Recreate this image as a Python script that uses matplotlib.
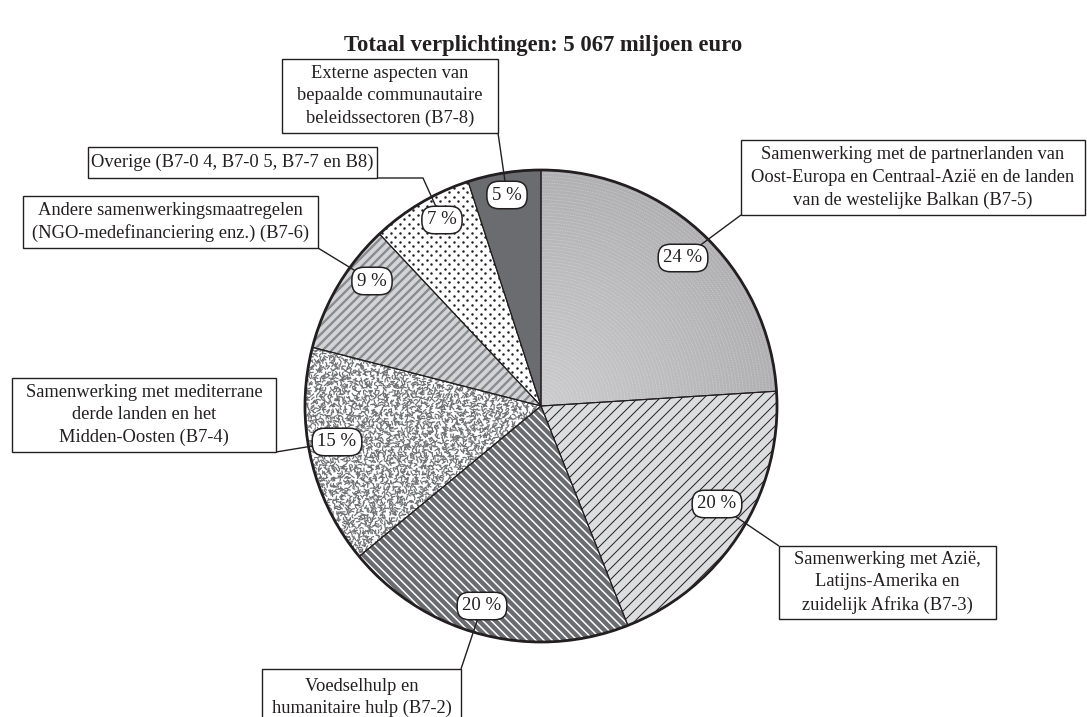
import numpy as np
import matplotlib.pyplot as plt
from matplotlib.patches import Rectangle, Circle, Wedge
from matplotlib.collections import LineCollection

plt.rcParams['font.family'] = ['Liberation Serif', 'DejaVu Serif']

W, H = 1087, 717

# --- data -------------------------------------------------------------
title = "Totaal verplichtingen: 5 067 miljoen euro"
shares = [24, 20, 20, 15, 9, 7, 5]
categories = [
    "Samenwerking met de partnerlanden van\nOost-Europa en Centraal-Azië en de landen\nvan de westelijke Balkan (B7-5)",
    "Samenwerking met Azië,\nLatijns-Amerika en\nzuidelijk Afrika (B7-3)",
    "Voedselhulp en\nhumanitaire hulp (B7-2)",
    "Samenwerking met mediterrane\nderde landen en het\nMidden-Oosten (B7-4)",
    "Andere samenwerkingsmaatregelen\n(NGO-medefinanciering enz.) (B7-6)",
    "Overige (B7-0 4, B7-0 5, B7-7 en B8)",
    "Externe aspecten van\nbepaalde communautaire\nbeleidssectoren (B7-8)",
]

# --- layout (pixel coords, y measured from top) ------------------------
CX, CY, R = 541, 406, 236
bubble_pos = [(683, 258), (717, 504), (482, 606), (337, 442),
              (372, 281), (442, 220), (507, 195)]
box_rect = [(741, 140, 1085, 215), (779, 546, 996, 619), (262, 669, 461, 726),
            (12, 378, 276, 452), (23, 196, 318, 248), (88, 147, 377, 178),
            (282, 59, 498, 133)]
leader_from = [[(741, 215)], [(779, 546)], [(461, 669)], [(276, 452)],
               [(318, 248)], [(377, 178), (423, 178)], [(498, 133)]]

INK = '#231f20'
DARK = '#6b6c6f'


def Y(py):
    return H - py


fig = plt.figure(figsize=(W / 100, H / 100), dpi=100)
ax = fig.add_axes([0, 0, 1, 1])
face = ['#bfc0c2', '#dcdddf', DARK, 'white', '#d3d4d6', 'white', DARK]
wedges, _ = ax.pie(shares, startangle=90, counterclock=False,
                   center=(CX, Y(CY)), radius=R, colors=face,
                   wedgeprops=dict(edgecolor='none', linewidth=0))
ax.set_xlim(0, W)
ax.set_ylim(0, H)
ax.set_aspect('equal')
ax.axis('off')

cx, cy = CX, Y(CY)


def stripes(wedge, slope, step, color, lw):
    segs = []
    for d in np.arange(-2 * R, 2 * R, step):
        if slope > 0:
            segs.append([(cx + d - R, cy - R), (cx + d + R, cy + R)])
        else:
            segs.append([(cx + d - R, cy + R), (cx + d + R, cy - R)])
    lc = LineCollection(segs, colors=color, linewidths=lw, zorder=2)
    ax.add_collection(lc)
    lc.set_clip_path(wedge)


# 24 %: radial grey with fine concentric rings
for r in np.arange(R, 0, -3.3):
    t = r / R
    g = 0.80 - 0.11 * t
    c = Circle((cx, cy), r, facecolor=(g, g, g + 0.01), edgecolor=(1, 1, 1, 0.45),
               linewidth=0.35, linestyle=(0, (3, 2)), zorder=2)
    ax.add_patch(c)
    c.set_clip_path(wedges[0])

# 20 % B7-3: thin black diagonal lines
stripes(wedges[1], +1, 11, INK, 0.7)
# 20 % B7-2: white diagonal lines on dark grey
stripes(wedges[2], -1, 8.3, 'white', 1.1)

# 15 %: worm-like grey speckle
segs = []
sp = 3.1
for i, x in enumerate(np.arange(cx - R, cx + R, sp)):
    for j, y in enumerate(np.arange(cy - R, cy + R, sp)):
        h = np.sin(i * 12.9898 + j * 78.233) * 43758.5453
        h = h - np.floor(h)
        h2 = np.sin(i * 39.3468 + j * 11.135) * 24634.6345
        h2 = h2 - np.floor(h2)
        a1 = h * 2 * np.pi
        a2 = a1 + (h2 - 0.5) * 2.4
        x0 = x + (h2 - 0.5) * sp
        y0 = y + (h - 0.5) * sp
        x1, y1 = x0 + 2.3 * np.cos(a1), y0 + 2.3 * np.sin(a1)
        x2, y2 = x1 + 2.3 * np.cos(a2), y1 + 2.3 * np.sin(a2)
        segs.append([(x0, y0), (x1, y1), (x2, y2)])
lc = LineCollection(segs, colors='#6d6e71', linewidths=0.85, zorder=2)
ax.add_collection(lc)
lc.set_clip_path(wedges[3])

# 9 %: grey stripes
stripes(wedges[4], +1, 9, '#8b8c8f', 1.7)

# 7 %: dots
dx, dy = 9, 4.5
pts = []
for k, y in enumerate(np.arange(cy - R, cy + R, dy)):
    off = (k % 2) * dx / 2
    for x in np.arange(cx - R + off, cx + R, dx):
        pts.append((x, y))
pts = np.array(pts)
sc = ax.scatter(pts[:, 0], pts[:, 1], s=3.2, color=INK, linewidths=0, zorder=2)
sc.set_clip_path(wedges[5])

# wedge separators and thick rim
for w in wedges:
    ax.add_patch(Wedge(w.center, w.r, w.theta1, w.theta2, fill=False,
                       edgecolor=INK, linewidth=0.8, zorder=3))
ax.add_patch(Circle((cx, cy), R, fill=False, edgecolor=INK, linewidth=2.0, zorder=4))

# leader lines, category boxes and percentage bubbles
for v, (bx, by), (x0, y0, x1, y1), pts_from, text in zip(
        shares, bubble_pos, box_rect, leader_from, categories):
    path = pts_from + [(bx, by)]
    ax.plot([p[0] for p in path], [Y(p[1]) for p in path], color=INK,
            linewidth=1.0, zorder=5, solid_capstyle='butt')
    ax.add_patch(Rectangle((x0, Y(y1)), x1 - x0, y1 - y0, facecolor='white',
                           edgecolor=INK, linewidth=1.0, zorder=6))
    ax.text((x0 + x1) / 2, Y((y0 + y1) / 2), text, ha='center', va='center',
            fontsize=13.3, color=INK, linespacing=1.42, zorder=7)
    ax.text(bx, Y(by), f"{v} %", ha='center', va='center', fontsize=13.5,
            color=INK, zorder=8,
            bbox=dict(boxstyle='round,pad=0.28,rounding_size=0.65',
                      facecolor='white', edgecolor=INK, linewidth=1.1))

ax.text(W / 2, Y(46), title, ha='center', va='center', fontsize=16.3,
        fontweight='bold', color=INK)

fig.savefig('out.png', dpi=100)
